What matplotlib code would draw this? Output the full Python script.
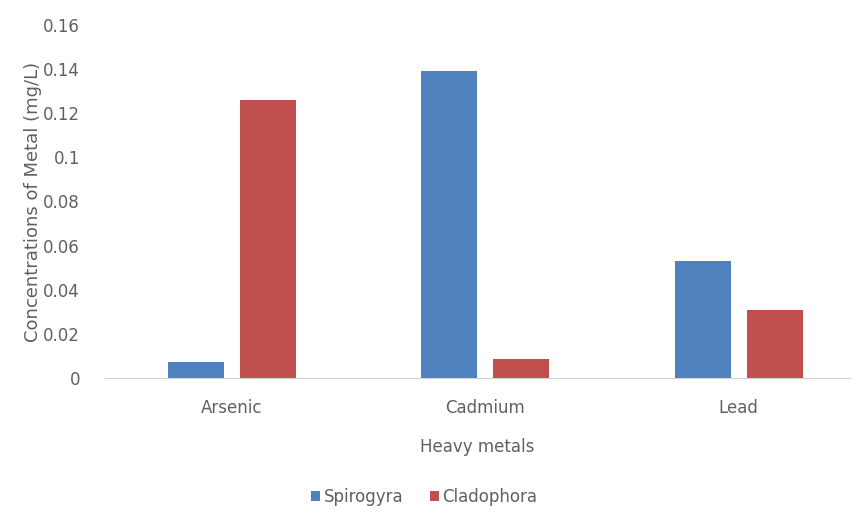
import numpy as np
import matplotlib.pyplot as plt

metals = ['Arsenic', 'Cadmium', 'Lead']
spirogyra = [0.007, 0.139, 0.053]
cladophora = [0.126, 0.0085, 0.031]
y_ticks = [0, 0.02, 0.04, 0.06, 0.08, 0.1, 0.12, 0.14, 0.16]
y_tick_labels = ['0', '0.02', '0.04', '0.06', '0.08', '0.1', '0.12', '0.14', '0.16']

plt.rcParams['font.family'] = ['DejaVu Sans']
text_col = '#606060'

fig = plt.figure(figsize=(8.57, 5.22), dpi=100)
ax = fig.add_axes([0.1225, 0.276, 0.8695, 0.676])

x = np.arange(len(metals))
w = 0.221
gap = 0.0315
ax.bar(x - w / 2 - gap, spirogyra, w, color='#4F81BD', label='Spirogyra')
ax.bar(x + w / 2 + gap, cladophora, w, color='#C0504D', label='Cladophora')

ax.set_xlim(-0.5, 2.44)
ax.set_ylim(0, 0.16)
ax.set_yticks(y_ticks)
ax.set_yticklabels(y_tick_labels)
ax.set_xticks(x)
ax.set_xticklabels(metals)
ax.tick_params(axis='both', length=0, colors=text_col, labelsize=12)
ax.tick_params(axis='x', pad=15)
ax.tick_params(axis='y', pad=18)

for s in ['top', 'right', 'left']:
    ax.spines[s].set_visible(False)
ax.spines['bottom'].set_color('#d0d0d0')

ax.set_xlabel('Heavy metals', color=text_col, fontsize=12, labelpad=15)
ax.set_ylabel('Concentrations of Metal (mg/L)', color=text_col, fontsize=13, labelpad=1)

fig.legend(loc='center', bbox_to_anchor=(0.495, 0.048), ncol=2, frameon=False,
           fontsize=12, handlelength=0.55, handleheight=0.55, handletextpad=0.2,
           columnspacing=1.6, labelcolor=text_col)

fig.savefig('out.png', dpi=100)
